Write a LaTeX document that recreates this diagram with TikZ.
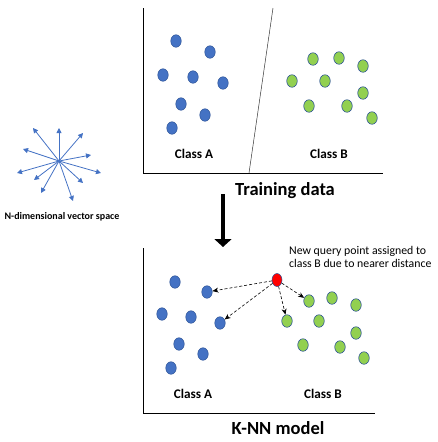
\documentclass[tikz,border=0pt]{standalone}
\usepackage{fontspec}
\setmainfont{Carlito}
\usetikzlibrary{arrows.meta,shapes.geometric}

\definecolor{dotblue}{RGB}{68,114,196}
\definecolor{dotedge}{RGB}{47,85,151}
\definecolor{dotgreen}{RGB}{146,208,80}

\tikzset{
  clsA/.style={ellipse,fill=dotblue,draw=dotedge,line width=0.5pt,minimum width=10.5pt,minimum height=12.5pt,inner sep=0pt},
  clsB/.style={ellipse,fill=dotgreen,draw=dotedge,line width=0.6pt,minimum width=10.5pt,minimum height=12.5pt,inner sep=0pt},
  query/.style={ellipse,fill=red,draw=dotedge,line width=0.5pt,minimum width=10pt,minimum height=13pt,inner sep=0pt},
  axisline/.style={line width=0.6pt},
  lab/.style={font=\fontsize{13.2}{15}\selectfont\bfseries},
  title/.style={font=\fontsize{18.5}{21}\selectfont\bfseries},
  nearest/.style={densely dashed,line width=0.6pt,-{Stealth[length=6pt,width=5pt]}},
  vec/.style={dotblue,line width=0.8pt,-{Triangle[length=5pt,width=5pt]}}
}

\begin{document}
\begin{tikzpicture}[x=1pt,y=-1pt]
            \useasboundingbox (0,0) rectangle (437,442);

            % vector space
            \coordinate (o) at (59,161);
            \foreach \p in {(33,128),(59,128),(83,133),(23,149),(91,155),(17,173),(101,173),(34,180),(83,183),(41,193),(73,201)} {
                    \draw[vec] (o) -- \p;
                }
            \node[font=\fontsize{10}{12}\selectfont\bfseries] (vlab) at (62,217) {N-dimensional vector space};

            % training data
            \coordinate (t0) at (143,173);
            \draw[axisline] (143,8) -- (t0) -- (383,173);
            \draw[line width=0.5pt,black!80] (273,8) -- (249,173);

            \foreach \x/\y [count=\i] in {176/41,210/52,163/75,193/77,223/83,181/104,205/115,172/128} {
                    \node[clsA] (ta\i) at (\x,\y) {};
                }
            \foreach \x/\y [count=\i] in {313/59,339/58,363/66,292/81,325/81,363/93,309/106,347/106,372/118} {
                    \node[clsB] (tb\i) at (\x,\y) {};
                }
            \node[lab] (tA) at (194,154) {Class A};
            \node[lab] (tB) at (329,154) {Class B};
            \node[title] (train) at (285,191) {Training data};

            % arrow down
            \coordinate (d1) at (223,194);
            \coordinate (d2) at (223,247);
            \draw[line width=3.6pt,-{Triangle[length=8pt,width=17pt]}] (d1) -- (d2);

            % K-NN model
            \draw[axisline] (143,248) -- (143,413) -- (375,413);

            \foreach \x/\y [count=\i] in {175/282,207/292,162/314,191/317,220/323,179/344,203/354,171/368} {
                    \node[clsA] (ma\i) at (\x,\y) {};
                }
            \foreach \x/\y [count=\i] in {309/301,332/298,356/305,287/321,319/321,356/333,303/345,340/347,364/358} {
                    \node[clsB] (mb\i) at (\x,\y) {};
                }
            \node[query] (q) at (277,280) {};

            \draw[nearest] (q) -- (ma2);
            \draw[nearest] (q) -- (ma5);
            \draw[nearest] (q) -- (mb1);
            \draw[nearest] (q) -- (mb4);

            \node[font=\fontsize{11.8}{13.5}\selectfont,align=left,anchor=north west,inner sep=0pt] (note) at (289,246)
                {New query point assigned to\\class B due to nearer distance};

            \node[lab] (mA) at (193,394) {Class A};
            \node[lab] (mB) at (323,394) {Class B};
            \node[title] (knn) at (278,428) {K-NN model};

        \end{tikzpicture}
\end{document}
